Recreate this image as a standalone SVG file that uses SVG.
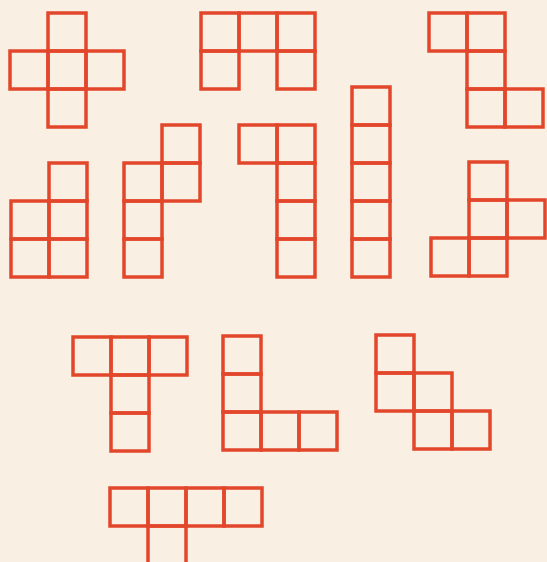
<svg xmlns="http://www.w3.org/2000/svg" width="547" height="562" viewBox="0 0 547 562">
<style>
.c{fill:none;stroke:#e2472b;stroke-width:3.5;stroke-linejoin:miter}
</style>
<defs><rect id="q" class="c" width="38" height="38"/></defs>
<rect width="547" height="562" fill="#f9efe3"/>
<g id="X"><use href="#q" x="48" y="13"/><use href="#q" x="10" y="51"/><use href="#q" x="48" y="51"/><use href="#q" x="86" y="51"/><use href="#q" x="48" y="89"/></g>
<g id="U"><use href="#q" x="201" y="13"/><use href="#q" x="239" y="13"/><use href="#q" x="277" y="13"/><use href="#q" x="201" y="51"/><use href="#q" x="277" y="51"/></g>
<g id="Z"><use href="#q" x="429" y="13"/><use href="#q" x="467" y="13"/><use href="#q" x="467" y="51"/><use href="#q" x="467" y="89"/><use href="#q" x="505" y="89"/></g>
<g id="P"><use href="#q" x="49" y="163"/><use href="#q" x="11" y="201"/><use href="#q" x="49" y="201"/><use href="#q" x="11" y="239"/><use href="#q" x="49" y="239"/></g>
<g id="N"><use href="#q" x="162" y="125"/><use href="#q" x="124" y="163"/><use href="#q" x="162" y="163"/><use href="#q" x="124" y="201"/><use href="#q" x="124" y="239"/></g>
<g id="L"><use href="#q" x="239" y="125"/><use href="#q" x="277" y="125"/><use href="#q" x="277" y="163"/><use href="#q" x="277" y="201"/><use href="#q" x="277" y="239"/></g>
<g id="I"><use href="#q" x="352" y="87"/><use href="#q" x="352" y="125"/><use href="#q" x="352" y="163"/><use href="#q" x="352" y="201"/><use href="#q" x="352" y="239"/></g>
<g id="F"><use href="#q" x="469" y="162"/><use href="#q" x="469" y="200"/><use href="#q" x="507" y="200"/><use href="#q" x="431" y="238"/><use href="#q" x="469" y="238"/></g>
<g id="T"><use href="#q" x="73" y="337"/><use href="#q" x="111" y="337"/><use href="#q" x="149" y="337"/><use href="#q" x="111" y="375"/><use href="#q" x="111" y="413"/></g>
<g id="V"><use href="#q" x="223" y="336"/><use href="#q" x="223" y="374"/><use href="#q" x="223" y="412"/><use href="#q" x="261" y="412"/><use href="#q" x="299" y="412"/></g>
<g id="W"><use href="#q" x="376" y="335"/><use href="#q" x="376" y="373"/><use href="#q" x="414" y="373"/><use href="#q" x="414" y="411"/><use href="#q" x="452" y="411"/></g>
<g id="Y"><use href="#q" x="110" y="488"/><use href="#q" x="148" y="488"/><use href="#q" x="186" y="488"/><use href="#q" x="224" y="488"/><use href="#q" x="148" y="526"/></g>
</svg>
